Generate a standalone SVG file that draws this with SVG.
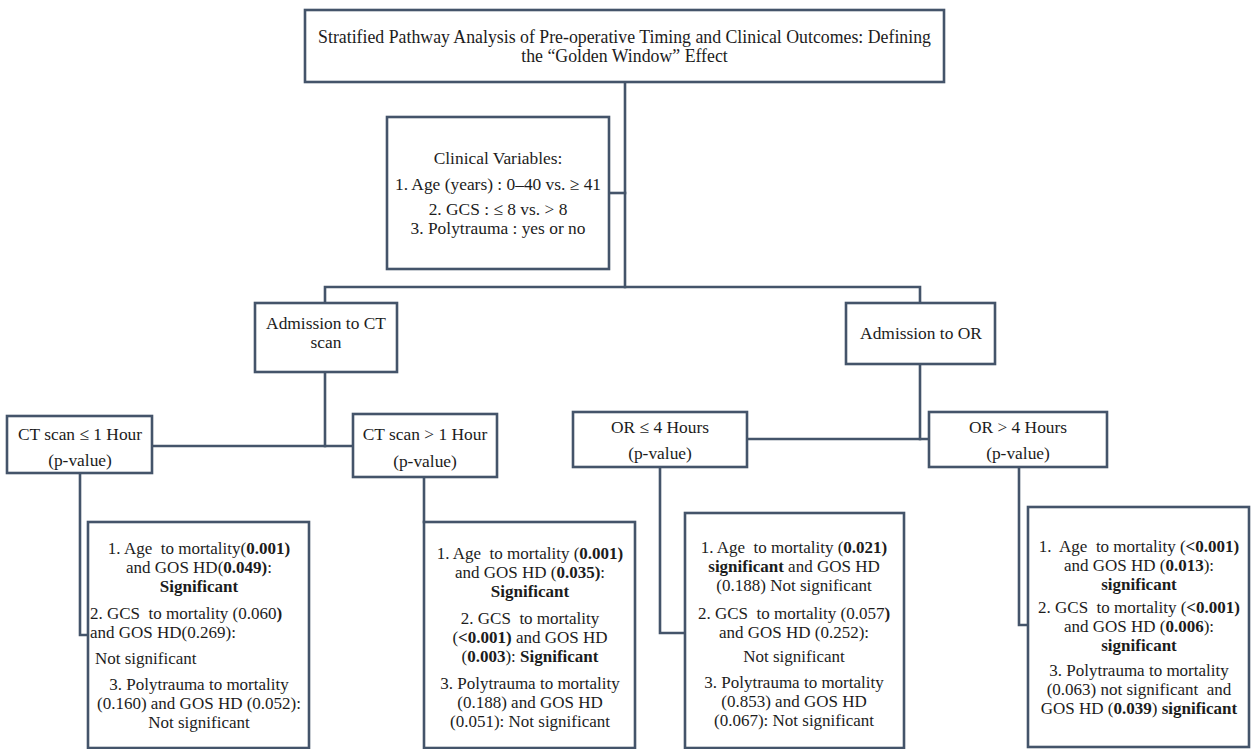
<svg xmlns="http://www.w3.org/2000/svg" width="1252" height="749" viewBox="0 0 1252 749" font-family="'Liberation Serif', 'Times New Roman', Times, 'DejaVu Serif', serif">
<defs>
<style>
.box{fill:#ffffff;stroke:#44546A;stroke-width:2.6}
.conn{fill:none;stroke:#44546A;stroke-width:2.6;stroke-linejoin:miter;stroke-linecap:square}
.t{font-family:'Liberation Serif','Times New Roman',Times,'DejaVu Serif',serif;font-size:17.4px;fill:#1c1c1c;text-anchor:middle}
.h{font-size:17.8px}
.r{font-size:17px}
.s{text-anchor:start}
.b{font-weight:bold}
</style>
</defs>
<rect width="1252" height="749" fill="#ffffff"/>
<g id="connectors">
<polyline class="conn" points="625,82 625,287"/>
<polyline class="conn" points="609,193 625,193"/>
<polyline class="conn" points="325,303 325,287 920,287 920,303"/>
<polyline class="conn" points="325,372 325,446"/>
<polyline class="conn" points="152,446 353,446"/>
<polyline class="conn" points="920,364 920,439"/>
<polyline class="conn" points="747,439 929,439"/>
<polyline class="conn" points="80,473 80,635 88,635"/>
<polyline class="conn" points="424,477 424,522"/>
<polyline class="conn" points="660,467 660,633 685,633"/>
<polyline class="conn" points="1019,467 1019,625 1028,625"/>
</g>
<g id="title">
<rect class="box" x="305" y="10" width="639" height="72"/>
<text class="t h"><tspan x="624.5" y="43">Stratified Pathway Analysis of Pre-operative Timing and Clinical Outcomes: Defining</tspan><tspan x="624.5" y="62">the “Golden Window” Effect</tspan></text>
</g>
<g id="clinical-variables">
<rect class="box" x="387" y="117" width="222" height="152"/>
<text class="t"><tspan x="498" y="164">Clinical Variables:</tspan><tspan x="498" y="190">1. Age (years) : 0–40 vs. ≥ 41</tspan><tspan x="498" y="215">2. GCS : ≤ 8 vs. &gt; 8</tspan><tspan x="498" y="234">3. Polytrauma : yes or no</tspan></text>
</g>
<g id="admission-ct">
<rect class="box" x="255" y="303" width="142" height="69"/>
<text class="t"><tspan x="326" y="329">Admission to CT</tspan><tspan x="326" y="348">scan</tspan></text>
</g>
<g id="admission-or">
<rect class="box" x="846" y="303" width="149" height="61"/>
<text class="t" x="921" y="339">Admission to OR</text>
</g>
<g id="ct-le-1h">
<rect class="box" x="7" y="416" width="145" height="57"/>
<text class="t"><tspan x="80" y="440">CT scan ≤ 1 Hour</tspan><tspan x="80" y="466">(p-value)</tspan></text>
</g>
<g id="ct-gt-1h">
<rect class="box" x="353" y="414" width="144" height="63"/>
<text class="t"><tspan x="425" y="440">CT scan &gt; 1 Hour</tspan><tspan x="425" y="467">(p-value)</tspan></text>
</g>
<g id="or-le-4h">
<rect class="box" x="573" y="412" width="174" height="55"/>
<text class="t"><tspan x="660" y="433">OR ≤ 4 Hours</tspan><tspan x="660" y="459">(p-value)</tspan></text>
</g>
<g id="or-gt-4h">
<rect class="box" x="929" y="412" width="178" height="55"/>
<text class="t"><tspan x="1018" y="433">OR &gt; 4 Hours</tspan><tspan x="1018" y="459">(p-value)</tspan></text>
</g>
<g id="result-ct-le-1h">
<rect class="box" x="88" y="522" width="221" height="226"/>
<text class="t r" xml:space="preserve"><tspan x="199" y="554">1. Age  to mortality(<tspan class="b">0.001)</tspan></tspan><tspan x="199" y="573">and GOS HD(<tspan class="b">0.049)</tspan>:</tspan><tspan x="199" y="592" class="b">Significant</tspan><tspan class="s" x="90" y="619">2. GCS  to mortality (0.060<tspan class="b">)</tspan></tspan><tspan class="s" x="90" y="638">and GOS HD(0.269):</tspan><tspan class="s" x="95" y="664">Not significant</tspan><tspan x="199" y="690">3. Polytrauma to mortality</tspan><tspan x="199" y="709">(0.160) and GOS HD (0.052):</tspan><tspan x="199" y="728">Not significant</tspan></text>
</g>
<g id="result-ct-gt-1h">
<rect class="box" x="424" y="522" width="211" height="226"/>
<text class="t r" xml:space="preserve"><tspan x="530" y="559">1. Age  to mortality (<tspan class="b">0.001)</tspan></tspan><tspan x="530" y="578">and GOS HD (<tspan class="b">0.035)</tspan>:</tspan><tspan x="530" y="597" class="b">Significant</tspan><tspan x="530" y="624">2. GCS  to mortality</tspan><tspan x="530" y="643">(<tspan class="b">&lt;0.001)</tspan> and GOS HD</tspan><tspan x="530" y="662">(<tspan class="b">0.003</tspan>): <tspan class="b">Significant</tspan></tspan><tspan x="530" y="689">3. Polytrauma to mortality</tspan><tspan x="530" y="708">(0.188) and GOS HD</tspan><tspan x="530" y="727">(0.051): Not significant</tspan></text>
</g>
<g id="result-or-le-4h">
<rect class="box" x="685" y="513" width="219" height="235"/>
<text class="t r" xml:space="preserve"><tspan x="794" y="553">1. Age  to mortality (<tspan class="b">0.021)</tspan></tspan><tspan x="794" y="572"><tspan class="b">significant</tspan> and GOS HD</tspan><tspan x="794" y="591">(0.188) Not significant</tspan><tspan x="794" y="619">2. GCS  to mortality (0.057<tspan class="b">)</tspan></tspan><tspan x="794" y="638">and GOS HD (0.252):</tspan><tspan x="794" y="662">Not significant</tspan><tspan x="794" y="688">3. Polytrauma to mortality</tspan><tspan x="794" y="707">(0.853) and GOS HD</tspan><tspan x="794" y="726">(0.067): Not significant</tspan></text>
</g>
<g id="result-or-gt-4h">
<rect class="box" x="1028" y="507" width="221" height="240"/>
<text class="t r" xml:space="preserve"><tspan x="1139" y="552">1.  Age  to mortality (<tspan class="b">&lt;0.001)</tspan></tspan><tspan x="1139" y="571">and GOS HD (<tspan class="b">0.013</tspan>):</tspan><tspan x="1139" y="590" class="b">significant</tspan><tspan x="1139" y="613">2. GCS  to mortality (<tspan class="b">&lt;0.001)</tspan></tspan><tspan x="1139" y="632">and GOS HD (<tspan class="b">0.006</tspan>):</tspan><tspan x="1139" y="651" class="b">significant</tspan><tspan x="1139" y="676">3. Polytrauma to mortality</tspan><tspan x="1139" y="695">(0.063) not significant  and</tspan><tspan x="1139" y="714">GOS HD (<tspan class="b">0.039</tspan>) <tspan class="b">significant</tspan></tspan></text>
</g>
</svg>
